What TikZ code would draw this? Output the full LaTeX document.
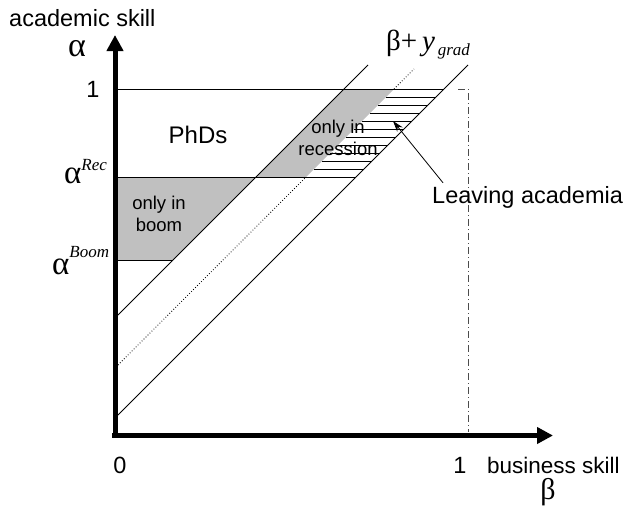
\documentclass[tikz,border=0pt]{standalone}
\usepackage{fontspec}
\setmainfont{Liberation Sans}
\newfontfamily\grk{Liberation Serif}
\usetikzlibrary{arrows.meta}
\definecolor{regiongray}{RGB}{192,192,192}
\begin{document}
\begin{tikzpicture}[x=1pt,y=-1pt,
  thinline/.style={line width=0.8pt},
  axisline/.style={line width=5pt,-{Triangle[length=16pt,width=16pt]}},
  big/.style={font=\fontsize{23.5}{26}\selectfont,inner sep=0pt},
  small/.style={font=\fontsize{18.5}{22}\selectfont,inner sep=0pt,align=center},
  greek/.style={font=\fontsize{34}{36}\selectfont\grk,inner sep=0pt},
  dots/.style={line width=0.8pt,dash pattern=on 0.8pt off 2pt},
  dashdot/.style={line width=0.8pt,black!70,dash pattern=on 7pt off 3pt on 1pt off 3pt},
  hatch/.style={line width=0.7pt},
  ]
\useasboundingbox (0,0) rectangle (643,506);
% key points
\coordinate (O) at (115,435.5);
\coordinate (Ytop) at (115,35);
\coordinate (Xend) at (553,435.5);
\coordinate (U0) at (118,315);  \coordinate (U1) at (368,65);
\coordinate (D0) at (118,365);  \coordinate (D1) at (414,69);
\coordinate (L0) at (118,415);  \coordinate (L1) at (468,65);
\coordinate (A1a) at (115,89);  \coordinate (A1b) at (444,89);
\coordinate (ARa) at (115,177); \coordinate (ARb) at (356,177);
\coordinate (ABa) at (115,260); \coordinate (ABb) at (173,260);
\coordinate (UR) at (256,177);  \coordinate (U89) at (344,89);
\coordinate (DR) at (306,177);  \coordinate (D89) at (394,89);
\coordinate (DD0) at (458,89);  \coordinate (DD1) at (468,89); \coordinate (DD2) at (468,432);
% gray regions
\fill[regiongray] (117.5,177) -- (UR) -- (ABb) -- (117.5,260) -- cycle;
\fill[regiongray] (U89) -- (D89) -- (DR) -- (UR) -- cycle;
% hatching
\foreach \k in {1,...,10}{
  \pgfmathsetmacro{\yy}{89+8*\k}
  \draw[hatch] ({483-\yy},\yy) -- ({533-\yy},\yy);
}
% diagonal lines
\draw[thinline] (U0) -- (U1);
\draw[dots] (D0) -- (DR);
\draw[dots] (D89) -- (D1);
\draw[thinline] (L0) -- (L1);
% horizontal levels
\draw[thinline] (A1a) -- (A1b);
\draw[thinline] (ARa) -- (ARb);
\draw[thinline] (ABa) -- (ABb);
% dash-dot at beta = 1
\draw[dashdot] (DD0) -- (DD1) -- (DD2);
% axes
\draw[axisline] (115,438) -- (Ytop);
\draw[axisline] (112,435.5) -- (Xend);
% labels
\node[big,anchor=base west] (ylab) at (9,27) {academic skill};
\node[greek,anchor=base] (alpha) at (77,56) {α};
\node[big,anchor=base] (one) at (93,97) {1};
\node[anchor=base west,inner sep=0pt] (arec) at (64,183) {{\fontsize{33}{35}\selectfont\grk α}\raisebox{13pt}{\fontsize{17}{17}\selectfont\grk\itshape Rec}};
\node[anchor=base west,inner sep=0pt] (aboom) at (52,274) {{\fontsize{33}{35}\selectfont\grk α}\raisebox{17pt}{\fontsize{17}{17}\selectfont\grk\itshape Boom}};
\node[font=\fontsize{24}{26}\selectfont,inner sep=0pt,anchor=base] (phd) at (198,143) {PhDs};
\node[small] (boom) at (159,214) {only in\\boom};
\node[small] (rec) at (338,138) {only in\\recession};
\node[big,anchor=base west] (leave) at (432,203) {Leaving academia};
\node[anchor=base west,inner sep=0pt] (ygrad) at (386,50) {{\fontsize{29}{30}\selectfont\grk β+\,\itshape y}\raisebox{-5pt}{\fontsize{17}{17}\selectfont\grk\itshape\,grad}};
\node[big,anchor=base] (zero) at (120,473) {0};
\node[big,anchor=base] (onex) at (460,473) {1};
\node[big,anchor=base west,font=\fontsize{22.5}{25}\selectfont] (xlab) at (487,473) {business skill};
\node[greek,anchor=base,font=\fontsize{30}{32}\selectfont\grk] (beta) at (548,499) {β};
% arrow to leaving region
\coordinate (tip) at (393,121);
\draw[line width=0.8pt,-{Stealth[length=11pt,width=7pt]}] (leave.north west) ++(11,-3) coordinate (tail) -- (tip);
\end{tikzpicture}
\end{document}
